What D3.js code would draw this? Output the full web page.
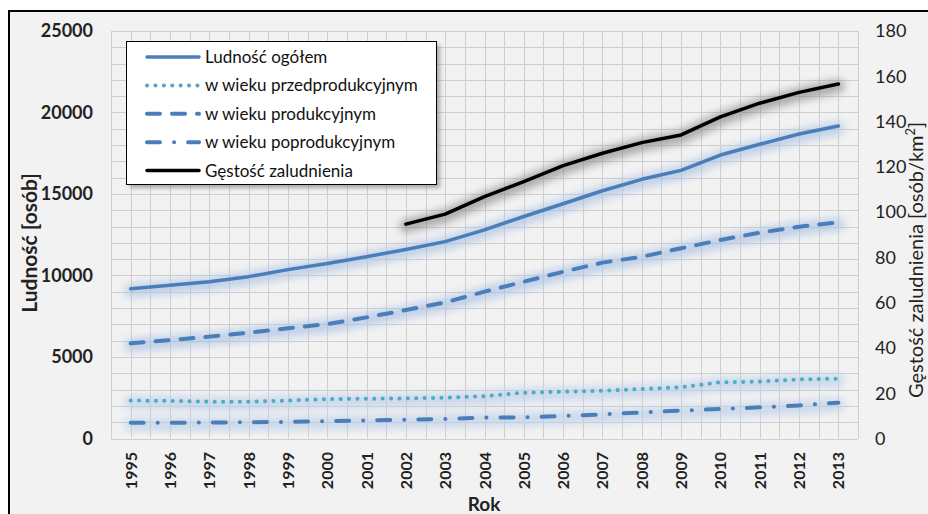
<!DOCTYPE html>
<html><head><meta charset="utf-8">
<script src="https://cdn.jsdelivr.net/npm/d3@7"></script>
<style>
html,body{margin:0;padding:0;background:#fff;}
svg{display:block;font-family:Lato,"Open Sans",sans-serif;}
</style></head>
<body>
<svg id="chart" width="928" height="514"></svg>
<script>
const years = [1995,1996,1997,1998,1999,2000,2001,2002,2003,2004,2005,2006,2007,2008,2009,2010,2011,2012,2013];
const ogolem = [9190,9400,9620,9930,10360,10730,11150,11600,12080,12800,13620,14400,15200,15900,16450,17390,18050,18680,19170];
const przed = [2330,2310,2260,2250,2330,2420,2440,2460,2500,2600,2810,2870,2930,3040,3140,3450,3490,3630,3670];
const prod = [5840,6040,6250,6490,6760,7020,7430,7880,8350,9010,9620,10230,10790,11150,11670,12180,12630,12990,13260];
const post = [970,970,980,1000,1020,1070,1110,1150,1200,1280,1300,1380,1480,1600,1710,1810,1910,2030,2200];
const gestosc = [null,null,null,null,null,null,null,94.7,99.1,106.8,113.5,120.5,126.0,130.7,134.1,142.1,148.1,152.9,156.6];
const leftTicks = [0,5000,10000,15000,20000,25000];
const rightTicks = [0,20,40,60,80,100,120,140,160,180];
const seriesNames = ["Ludność ogółem","w wieku przedprodukcyjnym","w wieku produkcyjnym","w wieku poprodukcyjnym","Gęstość zaludnienia"];

const svg = d3.select("#chart");
const L = 111, R = 858, T = 31, B = 438.5;
const x = d3.scaleBand().domain(years).range([L, R]).padding(0);
const yL = d3.scaleLinear().domain([0, 25000]).range([B, T]);
const yR = d3.scaleLinear().domain([0, 180]).range([B, T]);
const cx = d => x(d) + x.bandwidth() / 2;

const defs = svg.append("defs");
defs.append("filter").attr("id","blur").attr("x","-10%").attr("y","-50%").attr("width","120%").attr("height","200%")
  .append("feGaussianBlur").attr("stdDeviation", 4);
defs.append("filter").attr("id","shadow").attr("x","-10%").attr("y","-10%").attr("width","130%").attr("height","130%")
  .append("feGaussianBlur").attr("stdDeviation", 2);

// chart background with border
svg.append("rect").attr("x", 9).attr("y", 11).attr("width", 940).attr("height", 520)
  .attr("fill", "#f2f2f2").attr("stroke", "#000").attr("stroke-width", 2);

// gridlines
const grid = svg.append("g").attr("stroke", "#cfcfcf").attr("stroke-width", 1);
d3.range(0, 25001, 1000).forEach(v => {
  grid.append("line").attr("x1", L).attr("x2", R).attr("y1", Math.round(yL(v)) + 0.5).attr("y2", Math.round(yL(v)) + 0.5);
});
const vx = [];
years.forEach(yr => { vx.push(x(yr)); vx.push(cx(yr)); });
vx.push(R);
vx.forEach(p => {
  grid.append("line").attr("y1", T).attr("y2", B).attr("x1", Math.round(p) + 0.5).attr("x2", Math.round(p) + 0.5);
});

// axes labels
svg.append("g").selectAll("text").data(leftTicks).join("text")
  .attr("x", 93).attr("y", d => yL(d)).attr("dy", "0.35em").attr("text-anchor", "end")
  .attr("font-weight", "bold").attr("font-size", 18).attr("fill", "#222").text(d => d);
svg.append("g").selectAll("text").data(rightTicks).join("text")
  .attr("x", 875).attr("y", d => yR(d)).attr("dy", "0.35em").attr("text-anchor", "start")
  .attr("font-size", 18).attr("fill", "#222").text(d => d);
svg.append("g").selectAll("text").data(years).join("text")
  .attr("transform", d => `translate(${cx(d) + 6},452) rotate(-90)`)
  .attr("text-anchor", "end").attr("font-weight", "bold").attr("font-size", 16).attr("fill", "#222").text(d => d);

svg.append("text").attr("transform", "translate(37,243) rotate(-90)").attr("text-anchor", "middle")
  .attr("font-weight", "bold").attr("font-size", 21).attr("fill", "#222").text("Ludność [osób]");
svg.append("text").attr("x", 484).attr("y", 511).attr("text-anchor", "middle")
  .attr("font-weight", "bold").attr("font-size", 19).attr("fill", "#222").text("Rok");
const rt = svg.append("text").attr("transform", "translate(923,398) rotate(-90)").attr("text-anchor", "start")
  .attr("font-size", 20).attr("fill", "#222");
rt.append("tspan").text("Gęstość zaludnienia [osób/km");
rt.append("tspan").attr("dy", -8).attr("font-size", 13).text("2");
rt.append("tspan").attr("dy", 8).text("]");

// series
const blue = "#4a7ebb", cyan = "#4bacc6";
const series = [
  {name: seriesNames[0], vals: ogolem, y: yL, color: blue, dash: null, cap: "round", halo: "#a9c1e3", w: 3.5},
  {name: seriesNames[1], vals: przed, y: yL, color: cyan, dash: "0.1 8.3", cap: "round", halo: "#b9cde8", w: 4},
  {name: seriesNames[2], vals: prod, y: yL, color: blue, dash: "13 12", cap: "round", halo: "#a9c1e3", w: 4},
  {name: seriesNames[3], vals: post, y: yL, color: blue, dash: "13 14 0.1 14", cap: "round", halo: "#b9cde8", w: 4},
  {name: seriesNames[4], vals: gestosc, y: yR, color: "#000", dash: null, cap: "round", halo: "#8a8a8a", w: 3.5}
];
const gHalo = svg.append("g"), gLines = svg.append("g");
series.forEach(s => {
  const line = d3.line().defined(d => d[1] != null).x(d => cx(d[0])).y(d => s.y(d[1]));
  const pts = years.map((yr, i) => [yr, s.vals[i]]);
  gHalo.append("path").attr("d", line(pts)).attr("fill", "none").attr("stroke", s.halo)
    .attr("stroke-width", 13).attr("stroke-linecap", "round").attr("stroke-linejoin", "round")
    .attr("opacity", 0.7).attr("filter", "url(#blur)").attr("transform", "translate(0,2)");
  gLines.append("path").attr("d", line(pts)).attr("fill", "none").attr("stroke", s.color)
    .attr("stroke-width", s.w).attr("stroke-linecap", s.cap).attr("stroke-linejoin", "round")
    .attr("stroke-dasharray", s.dash);
});

// legend
const lg = svg.append("g");
lg.append("rect").attr("x", 130).attr("y", 45).attr("width", 310).attr("height", 143)
  .attr("fill", "#777").attr("opacity", 0.6).attr("filter", "url(#shadow)");
lg.append("rect").attr("x", 126.5).attr("y", 41.5).attr("width", 310).attr("height", 143)
  .attr("fill", "#fff").attr("stroke", "#000").attr("stroke-width", 1);
series.forEach((s, i) => {
  const yy = 57 + i * 28.4;
  lg.append("line").attr("x1", 147).attr("x2", 199).attr("y1", yy).attr("y2", yy)
    .attr("stroke", s.color).attr("stroke-width", s.w).attr("stroke-linecap", s.cap)
    .attr("stroke-dasharray", s.dash);
  lg.append("text").attr("x", 205).attr("y", yy).attr("dy", "0.35em")
    .attr("font-size", 17).attr("fill", "#111").text(s.name);
});
</script>
</body></html>
